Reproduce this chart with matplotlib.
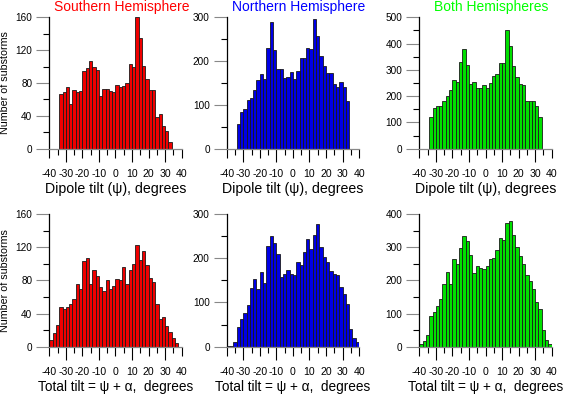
import numpy as np
import matplotlib
matplotlib.use("Agg")
import matplotlib.pyplot as plt

plt.rcParams['font.family'] = ['Liberation Sans', 'DejaVu Sans']

# 2-degree bins
dipole_left = np.arange(-34, 34, 2)      # 34 bins, -34..34
total_left = np.arange(-40, 40, 2)       # 40 bins, -40..40

south_dipole = [66, 69, 75, 54, 71, 69, 70, 95, 98, 107, 100, 96, 64, 73, 73, 70, 69,
                77, 75, 76, 80, 103, 100, 160, 135, 101, 85, 72, 71, 38, 42, 28, 22, 8]
north_dipole = [56, 84, 91, 112, 116, 135, 157, 170, 160, 230, 290, 226, 182, 182, 162, 164, 175,
                158, 177, 206, 208, 230, 227, 295, 257, 211, 188, 173, 173, 147, 140, 153, 140, 110]
both_dipole = [120, 153, 163, 162, 183, 202, 225, 260, 255, 330, 380, 318, 245, 252, 230, 232, 242,
               230, 250, 278, 285, 328, 325, 450, 390, 316, 272, 245, 242, 183, 182, 180, 162, 120]

south_total = [8, 17, 26, 48, 45, 48, 52, 58, 76, 70, 103, 107, 75, 93, 85, 72, 67, 80, 70, 73,
               82, 80, 96, 76, 93, 100, 123, 104, 115, 99, 83, 78, 52, 34, 36, 25, 18, 10, 4, 0]
north_total = [1, 2, 10, 45, 62, 77, 95, 133, 152, 130, 168, 145, 228, 251, 235, 210, 157, 165, 174, 165,
               162, 192, 185, 215, 243, 221, 252, 277, 225, 203, 192, 172, 165, 163, 135, 120, 97, 40, 20, 10]
both_total = [8, 18, 35, 93, 105, 122, 145, 188, 225, 188, 265, 248, 298, 335, 318, 275, 222, 242, 238, 233,
              242, 265, 267, 290, 328, 322, 373, 378, 337, 300, 273, 248, 215, 197, 175, 135, 113, 50, 20, 8]

titles = ["Southern Hemisphere", "Northern Hemisphere", "Both Hemispheres"]
title_colors = ["#ff0000", "#0000ff", "#00ff00"]
bar_colors = ["#f00000", "#0000e6", "#00e000"]
GRAY = "#888888"

W, H = 565, 395
fig = plt.figure(figsize=(W / 100, H / 100), dpi=100)

lefts_px = [49.3, 226.7, 419.3]
ax_w = 132.4


def make_axes(x0, y_top, y_bot):
    return fig.add_axes([x0 / W, 1 - y_bot / H, ax_w / W, (y_bot - y_top) / H])


def style_axes(ax, ymax, ystep):
    ax.set_xlim(-40, 40)
    ax.set_ylim(0, ymax)
    ax.spines['top'].set_visible(False)
    ax.spines['right'].set_visible(False)
    ax.spines['bottom'].set_color(GRAY)
    ax.spines['left'].set_color('black')
    ax.spines['left'].set_linewidth(0.9)
    ax.spines['bottom'].set_linewidth(0.9)

    ax.set_xticks(np.arange(-40, 41, 10))
    ax.set_xticks(np.arange(-35, 36, 10), minor=True)
    ax.set_yticks(np.arange(0, ymax + 1, ystep))
    ax.set_yticks(np.arange(ystep / 2, ymax, ystep), minor=True)

    ax.tick_params(axis='x', which='major', length=6.5, width=0.8, color='black',
                   pad=8.3, labelsize=7.6)
    ax.tick_params(axis='x', which='minor', length=4.3, width=0.8, color='black')
    ax.tick_params(axis='y', which='major', length=9.4, width=0.8, color=GRAY,
                   pad=2.8, labelsize=7.2)
    ax.tick_params(axis='y', which='minor', length=4.3, width=0.8, color='black')

    for val, tick in zip(ax.get_xticks(), ax.xaxis.get_major_ticks()):
        if int(val) in (-30, -10, 10, 30):
            tick.tick1line.set_color(GRAY)
            tick.tick1line.set_markersize(9.4)

    ax.set_xticklabels([str(int(v)) for v in ax.get_xticks()])


rows = [
    (17.3, 148.7, [south_dipole, north_dipole, both_dipole], dipole_left,
     [(160, 40), (300, 100), (500, 100)], "Dipole tilt (\u03c8), degrees", 10.2),
    (214.0, 346.7, [south_total, north_total, both_total], total_left,
     [(160, 40), (300, 100), (400, 100)], "Total tilt = \u03c8 + \u03b1,  degrees", 9.8),
]

for r, (y_top, y_bot, series, lefts, scales, xlabel, xl_size) in enumerate(rows):
    for c in range(3):
        ax = make_axes(lefts_px[c], y_top, y_bot)
        vals = np.array(series[c])
        keep = vals > 0
        ax.bar(lefts[keep], vals[keep], width=2, align='edge',
               color=bar_colors[c], edgecolor='#1a1a1a', linewidth=0.6)
        style_axes(ax, *scales[c])
        ax.set_xlabel(xlabel, fontsize=xl_size, va='center')
        ax.xaxis.set_label_coords(0.5, -40.5 / (y_bot - y_top))
        if r == 0:
            ax.text(0.545, 1 + 10.3 / (y_bot - y_top), titles[c], color=title_colors[c],
                    fontsize=10, ha='center', va='center', transform=ax.transAxes)
        if c == 0:
            fig.text(5 / W, 1 - (y_top + y_bot) / 2 / H, "Number of substorms",
                     rotation=90, fontsize=7.7, ha='center', va='center')

fig.savefig("out.png", dpi=100)
